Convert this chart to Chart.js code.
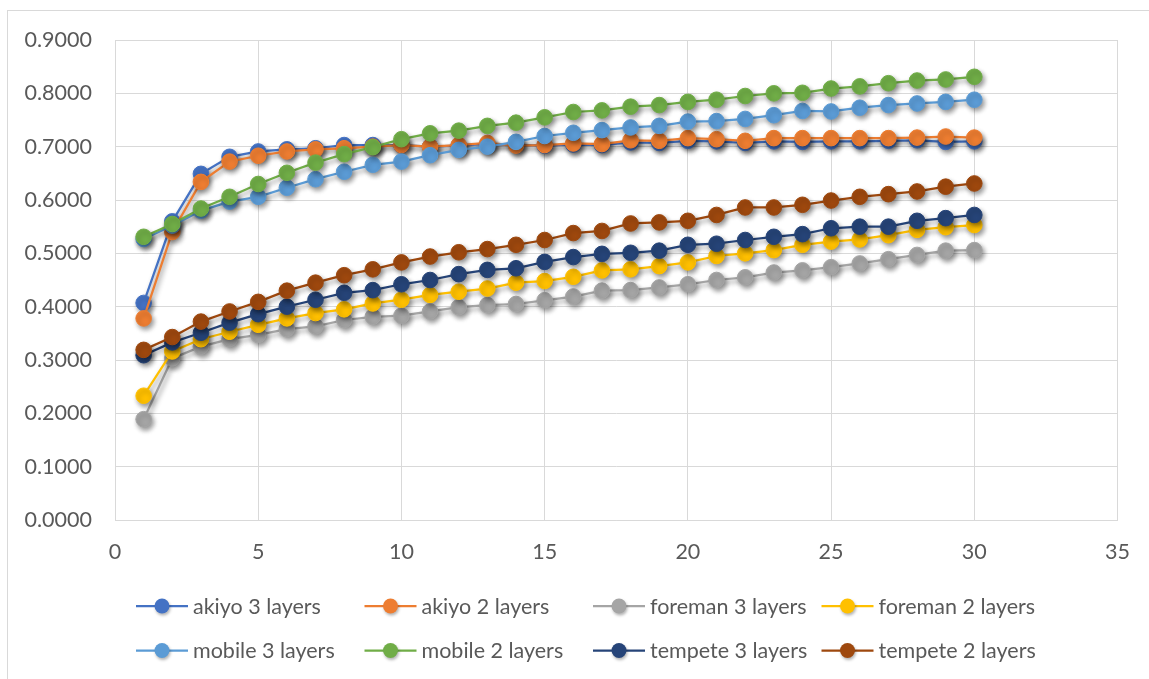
<!DOCTYPE html>
<html>
<head>
<meta charset="utf-8">
<script src="https://cdn.jsdelivr.net/npm/chart.js@4.4.1/dist/chart.umd.min.js"></script>
<style>
  html, body { margin: 0; padding: 0; background: #ffffff; }
  body { width: 1149px; height: 679px; position: relative; overflow: hidden; }
  #frame {
    position: absolute; left: 7px; top: 10px; width: 1200px; height: 700px;
    border-left: 1px solid #d9d9d9; border-top: 1px solid #d9d9d9;
  }
  #wrap { position: absolute; left: 0; top: 0; width: 1149px; height: 679px; }
</style>
</head>
<body>
<div id="frame"></div>
<div id="wrap"><canvas id="chart" width="1149" height="679"></canvas></div>
<script>
// Frame index (x axis)
const frames = [1, 2, 3, 4, 5, 6, 7, 8, 9, 10, 11, 12, 13, 14, 15,
                16, 17, 18, 19, 20, 21, 22, 23, 24, 25, 26, 27, 28, 29, 30];

// Series values
const akiyo3 = [0.407, 0.560, 0.649, 0.681, 0.691, 0.695, 0.697, 0.703, 0.703, 0.703,
                0.700, 0.702, 0.705, 0.703, 0.702, 0.704, 0.703, 0.708, 0.707, 0.711,
                0.710, 0.707, 0.710, 0.709, 0.710, 0.710, 0.711, 0.712, 0.709, 0.710];
const akiyo2 = [0.378, 0.540, 0.634, 0.672, 0.683, 0.691, 0.695, 0.697, 0.700, 0.703,
                0.700, 0.703, 0.707, 0.702, 0.703, 0.706, 0.705, 0.712, 0.711, 0.716,
                0.714, 0.711, 0.716, 0.716, 0.716, 0.716, 0.716, 0.717, 0.719, 0.717];
const foreman3 = [0.189, 0.303, 0.325, 0.339, 0.347, 0.358, 0.363, 0.375, 0.381, 0.383,
                  0.391, 0.399, 0.403, 0.405, 0.412, 0.419, 0.430, 0.431, 0.436, 0.442,
                  0.450, 0.455, 0.464, 0.468, 0.474, 0.481, 0.489, 0.497, 0.505, 0.506];
const foreman2 = [0.233, 0.316, 0.339, 0.353, 0.366, 0.378, 0.388, 0.395, 0.406, 0.413,
                  0.422, 0.428, 0.434, 0.445, 0.448, 0.456, 0.468, 0.470, 0.476, 0.483,
                  0.495, 0.500, 0.506, 0.516, 0.522, 0.526, 0.534, 0.544, 0.549, 0.553];
const mobile3 = [0.527, 0.552, 0.580, 0.597, 0.606, 0.623, 0.639, 0.653, 0.666, 0.672,
                 0.684, 0.694, 0.700, 0.709, 0.720, 0.726, 0.731, 0.736, 0.739, 0.747,
                 0.748, 0.752, 0.759, 0.767, 0.766, 0.773, 0.778, 0.781, 0.784, 0.788];
const mobile2 = [0.531, 0.555, 0.584, 0.606, 0.630, 0.651, 0.670, 0.686, 0.699, 0.714,
                 0.725, 0.730, 0.739, 0.745, 0.755, 0.765, 0.768, 0.775, 0.778, 0.784,
                 0.788, 0.795, 0.800, 0.801, 0.809, 0.813, 0.819, 0.824, 0.826, 0.831];
const tempete3 = [0.309, 0.333, 0.351, 0.370, 0.386, 0.400, 0.413, 0.426, 0.431, 0.442,
                  0.450, 0.461, 0.469, 0.472, 0.484, 0.493, 0.499, 0.501, 0.505, 0.516,
                  0.518, 0.525, 0.531, 0.536, 0.547, 0.550, 0.550, 0.561, 0.566, 0.572];
const tempete2 = [0.319, 0.343, 0.372, 0.391, 0.409, 0.430, 0.445, 0.459, 0.470, 0.483,
                  0.494, 0.502, 0.508, 0.516, 0.525, 0.538, 0.542, 0.556, 0.558, 0.561,
                  0.572, 0.586, 0.586, 0.591, 0.599, 0.606, 0.611, 0.616, 0.625, 0.631];

const seriesNames = ['akiyo 3 layers', 'akiyo 2 layers', 'foreman 3 layers', 'foreman 2 layers',
                     'mobile 3 layers', 'mobile 2 layers', 'tempete 3 layers', 'tempete 2 layers'];
const seriesValues = [akiyo3, akiyo2, foreman3, foreman2, mobile3, mobile2, tempete3, tempete2];
const seriesColors = ['#4472C4', '#ED7D31', '#A5A5A5', '#FFC000',
                      '#5B9BD5', '#70AD47', '#264478', '#9E480E'];

// Axis ranges
const xMin = 0, xMax = 35, xStep = 5;
const yMin = 0, yMax = 0.9, yStep = 0.1;

const FONT = 'Lato, "Open Sans", "Liberation Sans", sans-serif';
const FONT_SIZE = 21.5;
const TEXT_COLOR = '#595959';
const GRID_COLOR = '#d9d9d9';

// Soft drop shadow under lines and markers
const shadowPlugin = {
  id: 'seriesShadow',
  beforeDatasetDraw(chart) {
    const ctx = chart.ctx;
    ctx.save();
    ctx.shadowColor = 'rgba(0,0,0,0.42)';
    ctx.shadowBlur = 5;
    ctx.shadowOffsetX = 2;
    ctx.shadowOffsetY = 3;
  },
  afterDatasetDraw(chart) {
    chart.ctx.restore();
  }
};

// Legend laid out as a 4-column grid under the plot
const gridLegend = {
  id: 'gridLegend',
  afterDraw(chart, args, opts) {
    const ctx = chart.ctx;
    const ds = chart.data.datasets;
    ctx.save();
    ctx.font = opts.fontSize + 'px ' + FONT;
    ctx.textBaseline = 'middle';
    ctx.textAlign = 'left';
    ds.forEach((d, i) => {
      const col = i % opts.columns;
      const row = Math.floor(i / opts.columns);
      const x0 = opts.left + col * opts.colWidth;
      const y = opts.top + row * opts.rowHeight;
      ctx.strokeStyle = d.borderColor;
      ctx.lineWidth = 2.25;
      ctx.beginPath();
      ctx.moveTo(x0, y);
      ctx.lineTo(x0 + opts.lineLen, y);
      ctx.stroke();
      ctx.save();
      ctx.shadowColor = 'rgba(0,0,0,0.3)';
      ctx.shadowBlur = 3;
      ctx.shadowOffsetX = 1;
      ctx.shadowOffsetY = 2;
      ctx.fillStyle = d.backgroundColor;
      ctx.beginPath();
      ctx.arc(x0 + opts.lineLen / 2, y, 7.5, 0, Math.PI * 2);
      ctx.fill();
      ctx.restore();
      ctx.fillStyle = TEXT_COLOR;
      ctx.fillText(d.label, x0 + opts.lineLen + 5, y + 1);
    });
    ctx.restore();
  }
};

const datasets = seriesNames.map((name, i) => ({
  label: name,
  data: seriesValues[i].map((v, k) => ({ x: frames[k], y: v })),
  borderColor: seriesColors[i],
  backgroundColor: seriesColors[i],
  pointBackgroundColor: seriesColors[i],
  pointBorderColor: seriesColors[i],
  pointBorderWidth: 1,
  pointRadius: 7.8,
  pointHoverRadius: 7.8,
  borderWidth: 2.25,
  tension: 0,
  fill: false,
  order: seriesNames.length - i
}));

new Chart(document.getElementById('chart'), {
  type: 'line',
  data: { datasets },
  plugins: [shadowPlugin, gridLegend],
  options: {
    responsive: false,
    animation: false,
    layout: { padding: { left: 0, top: 40, right: 31, bottom: 0 } },
    plugins: {
      legend: { display: false },
      tooltip: { enabled: false },
      gridLegend: {
        columns: 4, left: 136, colWidth: 228.5, top: 606, rowHeight: 44.5,
        lineLen: 52, fontSize: FONT_SIZE
      }
    },
    scales: {
      x: {
        type: 'linear',
        min: xMin, max: xMax,
        ticks: {
          stepSize: xStep, color: TEXT_COLOR, padding: 19,
          font: { family: FONT, size: FONT_SIZE }, maxRotation: 0
        },
        grid: { color: GRID_COLOR, lineWidth: 1, drawTicks: false },
        border: { color: GRID_COLOR, width: 1 },
        afterFit(scale) { scale.height = 159; }
      },
      y: {
        min: yMin, max: yMax,
        ticks: {
          stepSize: yStep, color: TEXT_COLOR, padding: 23,
          font: { family: FONT, size: FONT_SIZE },
          callback: (v) => Number(v).toFixed(4)
        },
        grid: { color: GRID_COLOR, lineWidth: 1, drawTicks: false },
        border: { color: GRID_COLOR, width: 1 },
        afterFit(scale) { scale.width = 115; }
      }
    }
  }
});
</script>
</body>
</html>
